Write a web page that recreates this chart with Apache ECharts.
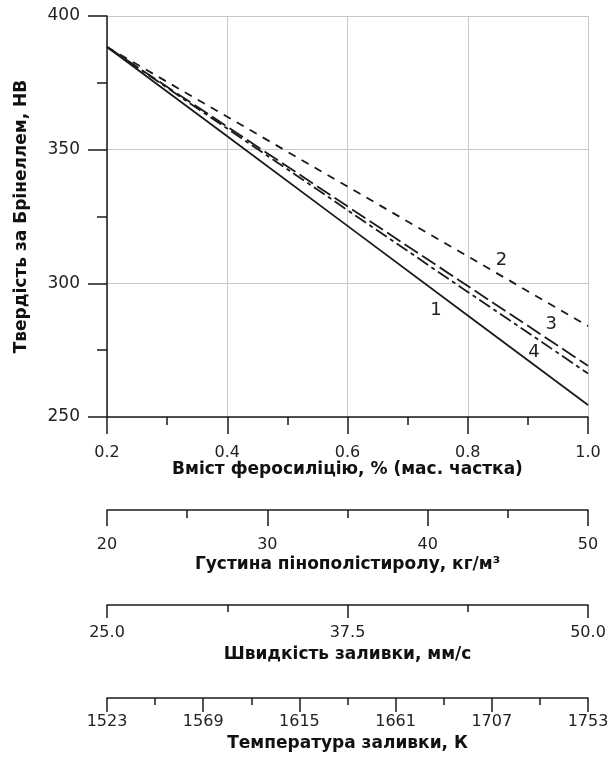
<!DOCTYPE html>
<html>
<head>
<meta charset="utf-8">
<script src="https://cdn.jsdelivr.net/npm/echarts@6/dist/echarts.min.js"></script>
<style>
html,body{margin:0;padding:0;background:#fff;}
#chart{width:615px;height:758px;}
</style>
</head>
<body>
<div id="chart"></div>
<script>
// ---- data ----
const feSiContent = [0.2, 0.4, 0.6, 0.8, 1.0];
const hbCurve1 = [388.4, 355.0, 321.5, 288.0, 254.5];
const hbCurve2 = [388.4, 362.3, 336.2, 310.1, 284.0];
const hbCurve3 = [388.4, 358.6, 328.8, 299.0, 269.2];
const hbCurve4 = [388.4, 357.9, 327.4, 296.8, 266.3];
const curveNames = ['1', '2', '3', '4'];
const curveLabelAt = [[0.747, 290.0], [0.856, 308.7], [0.939, 284.8], [0.910, 274.3]];
const hbTicks = [250, 300, 350, 400];
const feSiTicks = [0.2, 0.4, 0.6, 0.8, 1.0];
const densityTicks = [20, 30, 40, 50];
const speedTicks = [25.0, 37.5, 50.0];
const tempTicks = [1523, 1569, 1615, 1661, 1707, 1753];

const FONT = 'DejaVu Sans, Liberation Sans, Arial, sans-serif';
const INK = '#1a1a1a';
const TXT = '#222';

function pairs(xs, ys){ return xs.map((x,i)=>[x, ys[i]]); }

const curves = [hbCurve1, hbCurve2, hbCurve3, hbCurve4];
const dashes = ['solid', [8, 7], [16, 5], [13, 4, 4, 4]];

const series = curves.map((c, i) => ({
  type: 'line',
  xAxisIndex: 0, yAxisIndex: 0,
  data: pairs(feSiContent, c),
  showSymbol: false,
  symbol: 'none',
  z: 5 - i,
  lineStyle: { color: INK, width: 1.8, type: dashes[i] },
  markPoint: {
    symbol: 'circle', symbolSize: 0,
    data: [{ coord: curveLabelAt[i], value: curveNames[i] }],
    label: { show: true, position: 'inside', color: TXT, fontFamily: FONT, fontSize: 18, formatter: curveNames[i] }
  }
}));

function extraAxis(gridIndex, min, max, interval, tickLen, minorLen, margin, nameGap, name, fmt) {
  return {
    type: 'value', gridIndex: gridIndex, position: 'bottom',
    min: min, max: max, interval: interval,
    axisLine: { show: true, lineStyle: { color: INK, width: 1.5 } },
    axisTick: { show: true, length: tickLen, lineStyle: { color: INK, width: 1.5 } },
    minorTick: { show: true, splitNumber: 2, length: minorLen, lineStyle: { color: INK, width: 1.5 } },
    splitLine: { show: false },
    axisLabel: { show: true, margin: margin, color: TXT, fontFamily: FONT, fontSize: 16, formatter: fmt, showMinLabel: true, showMaxLabel: true },
    name: name, nameLocation: 'middle', nameGap: nameGap,
    nameTextStyle: { color: '#111', fontFamily: FONT, fontSize: 17, fontWeight: 'bold' }
  };
}

const option = {
  backgroundColor: '#fff',
  animation: false,
  grid: [
    { left: 107, top: 16, width: 481, height: 401 },
    { left: 107, top: 500, width: 481, height: 10 },
    { left: 107, top: 595, width: 481, height: 10 },
    { left: 107, top: 688, width: 481, height: 10 }
  ],
  xAxis: [
    {
      type: 'value', gridIndex: 0,
      min: feSiTicks[0], max: feSiTicks[feSiTicks.length - 1], interval: 0.2,
      axisLine: { show: true, onZero: false, lineStyle: { color: INK, width: 1.5 } },
      axisTick: { show: true, length: 17, lineStyle: { color: INK, width: 1.5 } },
      minorTick: { show: true, splitNumber: 2, length: 8, lineStyle: { color: INK, width: 1.5 } },
      splitLine: { show: true, lineStyle: { color: '#c8c8c8', width: 1 } },
      axisLabel: { margin: 28, color: TXT, fontFamily: FONT, fontSize: 16, formatter: v => v.toFixed(1) },
      name: 'Вміст феросиліцію, % (мас. частка)', nameLocation: 'middle', nameGap: 44,
      nameMoveOverlap: false,
      nameTextStyle: { color: '#111', fontFamily: FONT, fontSize: 17, fontWeight: 'bold' }
    },
    extraAxis(1, densityTicks[0], densityTicks[densityTicks.length - 1], densityTicks[1] - densityTicks[0], 16, 8, 27, 46,
      'Густина пінополістиролу, кг/м³', v => String(v)),
    extraAxis(2, speedTicks[0], speedTicks[speedTicks.length - 1], speedTicks[1] - speedTicks[0], 13, 7, 20, 41,
      'Швидкість заливки, мм/с', v => v.toFixed(1)),
    extraAxis(3, 0, tempTicks.length - 1, 1, 14, 7, 16, 37,
      'Температура заливки, К', v => String(tempTicks[Math.round(v)]))
  ],
  yAxis: [
    {
      type: 'value', gridIndex: 0,
      min: hbTicks[0], max: hbTicks[hbTicks.length - 1], interval: 50,
      axisLine: { show: true, onZero: false, lineStyle: { color: INK, width: 1.5 } },
      axisTick: { show: true, length: 19, lineStyle: { color: INK, width: 1.5 } },
      minorTick: { show: true, splitNumber: 2, length: 10, lineStyle: { color: INK, width: 1.5 } },
      splitLine: { show: true, lineStyle: { color: '#c8c8c8', width: 1 } },
      axisLabel: { margin: 27, color: TXT, fontFamily: FONT, fontSize: 17 },
      name: 'Твердість за Брінеллем, НВ', nameLocation: 'middle', nameGap: 77,
      nameTextStyle: { color: '#111', fontFamily: FONT, fontSize: 17, fontWeight: 'bold' }
    },
    { type: 'value', gridIndex: 1, show: false, min: 0, max: 1 },
    { type: 'value', gridIndex: 2, show: false, min: 0, max: 1 },
    { type: 'value', gridIndex: 3, show: false, min: 0, max: 1 }
  ],
  series: series
};

const chart = echarts.init(document.getElementById('chart'), null, { renderer: 'canvas' });
chart.setOption(option);
</script>
</body>
</html>
